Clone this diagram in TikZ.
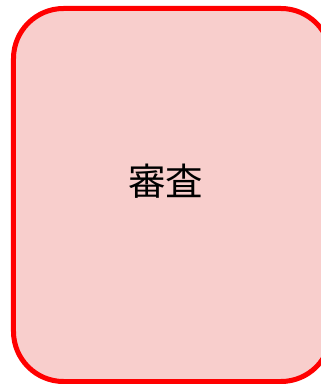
\documentclass[tikz,border=0pt]{standalone}
\usepackage{fontspec}
\newfontfamily\cjk{Noto Sans CJK JP}
\usetikzlibrary{positioning}
\definecolor{boxfill}{HTML}{F8CECC}
\definecolor{boxline}{HTML}{FF0000}

\begin{document}
\begin{tikzpicture}[x=1bp,y=1bp]
    \tikzstyle{stage}=[draw=boxline,fill=boxfill,line width=5bp,rounded corners=50bp,inner sep=0pt]
    \tikzstyle{stage text}=[font=\cjk\fontsize{37.5bp}{42bp}\selectfont,inner sep=0pt]

    \useasboundingbox (0,0) rectangle (321,384);

    \node[stage,minimum width=317.5bp,minimum height=373bp] (review) at (172.25,189) {};
    \node[stage text] (reviewlabel) at (165.5,203) {審査};
\end{tikzpicture}
\end{document}
